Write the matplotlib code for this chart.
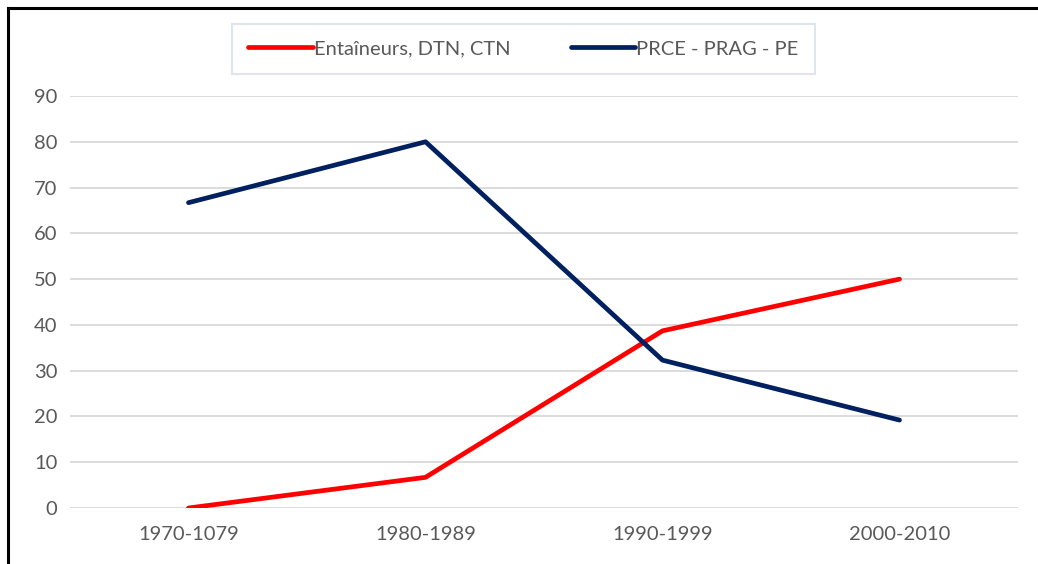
"""Line chart: Entaîneurs/DTN/CTN vs PRCE/PRAG/PE by decade."""

import matplotlib
matplotlib.use("Agg")
import matplotlib.pyplot as plt
from matplotlib.lines import Line2D

periods = ["1970-1079", "1980-1989", "1990-1999", "2000-2010"]
entraineurs = [0, 6.7, 38.7, 50]
prce = [66.7, 80, 32.3, 19.2]
y_ticks = [0, 10, 20, 30, 40, 50, 60, 70, 80, 90]

plt.rcParams["font.family"] = ["Lato", "DejaVu Sans"]
TEXT = "#595959"

W, H = 1038, 564
fig = plt.figure(figsize=(W / 100, H / 100), dpi=100)
ax = fig.add_axes([70 / W, (H - 508) / H, (1018 - 70) / W, (508 - 96) / H])

x = [i + 0.5 for i in range(len(periods))]
ax.plot(x, entraineurs, color="#FF0000", lw=3.4, solid_capstyle="round",
        label="Entaîneurs, DTN, CTN")
ax.plot(x, prce, color="#002060", lw=3.4, solid_capstyle="round",
        label="PRCE - PRAG - PE")

ax.set_xlim(0, len(periods))
ax.set_ylim(0, 90)
ax.set_yticks(y_ticks)
ax.set_xticks(x)
ax.set_xticklabels(periods)
ax.tick_params(length=0, colors=TEXT, labelsize=14.5)
ax.tick_params(axis="y", pad=9)
ax.tick_params(axis="x", pad=13)
ax.grid(axis="y", color="#D9D9D9", lw=1.3)
ax.set_axisbelow(True)
for s in ax.spines.values():
    s.set_visible(False)

leg = ax.legend(loc="center", bbox_to_anchor=((224 + 823) / 2 / W, 1 - 49 / H),
                bbox_transform=fig.transFigure, ncol=2, frameon=True,
                fancybox=False, fontsize=14.5, handlelength=3.2,
                handletextpad=0.05, columnspacing=3.0, borderpad=0.8,
                borderaxespad=0)
leg.get_frame().set_edgecolor("#D9DEE8")
leg.get_frame().set_linewidth(1.5)
for t in leg.get_texts():
    t.set_color(TEXT)

# outer border (left and top only visible in the crop)
fig.add_artist(Line2D([8 / W, 8 / W], [0, 1 - 8 / H], color="black", lw=2.2,
                      transform=fig.transFigure))
fig.add_artist(Line2D([8 / W, 1], [1 - 8 / H, 1 - 8 / H], color="black", lw=2.2,
                      transform=fig.transFigure))

fig.savefig("out.png", dpi=100)
